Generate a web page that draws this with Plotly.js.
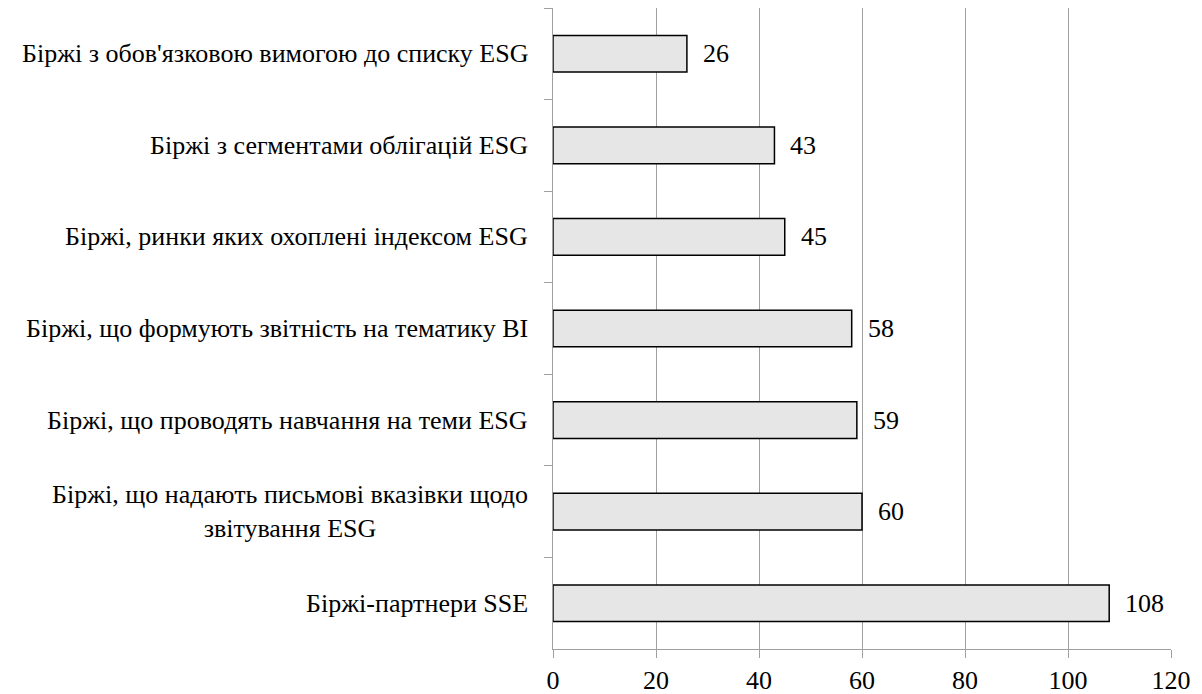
<!DOCTYPE html>
<html><head><meta charset="utf-8">
<script src="https://cdn.plot.ly/plotly-3.0.1.min.js"></script>
<style>
html,body{margin:0;padding:0;background:#fff}
#chart text, #chart tspan { font-family: "Liberation Serif", "Times New Roman", serif !important; }
</style>
</head><body>
<div id="chart" style="width:1202px;height:694px"></div>
<script>
const categories = [
  "Біржі з обов'язковою вимогою до списку ESG",
  "Біржі з сегментами облігацій ESG",
  "Біржі, ринки яких охоплені індексом ESG",
  "Біржі, що формують звітність на тематику ВІ",
  "Біржі, що проводять навчання на теми ESG",
  "Біржі, що надають письмові вказівки щодо<br>звітування ESG",
  "Біржі-партнери SSE"
];
const values = [26, 43, 45, 58, 59, 60, 108];
const xTicks = [0, 20, 40, 60, 80, 100, 120];

const FAMILY = "Liberation Serif";
function f() { return {family: FAMILY, size: 26, color: "#000000"}; }

const trace = {
  type: 'bar', orientation: 'h',
  x: values, y: categories,
  width: 0.4,
  marker: {color: '#e6e6e6', line: {color: '#000', width: 1.5}},
  hoverinfo: 'none'
};

const annotations = [];
categories.forEach((c, i) => {
  annotations.push({x: 0, xref: 'paper', y: c, yref: 'y', text: c, showarrow: false,
    xanchor: 'right', yanchor: 'middle', align: 'center', xshift: -23, font: f()});
  annotations.push({x: values[i], xref: 'x', y: c, yref: 'y', text: String(values[i]), showarrow: false,
    xanchor: 'left', yanchor: 'middle', xshift: 14, font: f()});
});

const layout = {
  width: 1202, height: 694,
  margin: {l: 553, r: 31, t: 8, b: 45},
  paper_bgcolor: '#fff', plot_bgcolor: '#fff',
  showlegend: false,
  font: f(),
  xaxis: {range: [0, 120], tickvals: xTicks, ticktext: xTicks.map(String),
    showgrid: true, gridcolor: '#a0a0a0', gridwidth: 1,
    showline: true, linecolor: '#a0a0a0', linewidth: 1,
    ticks: 'outside', ticklen: 8, tickcolor: '#a0a0a0',
    zeroline: false, tickfont: f(), fixedrange: true},
  yaxis: {type: 'category', categoryorder: 'array', categoryarray: categories,
    autorange: 'reversed', showticklabels: false,
    showline: true, linecolor: '#a0a0a0', linewidth: 1,
    ticks: 'outside', ticklen: 8, tickcolor: '#a0a0a0', tickson: 'boundaries',
    showgrid: false, zeroline: false, fixedrange: true},
  annotations: annotations
};

Plotly.newPlot('chart', [trace], layout, {displayModeBar: false});
</script>
</body></html>
